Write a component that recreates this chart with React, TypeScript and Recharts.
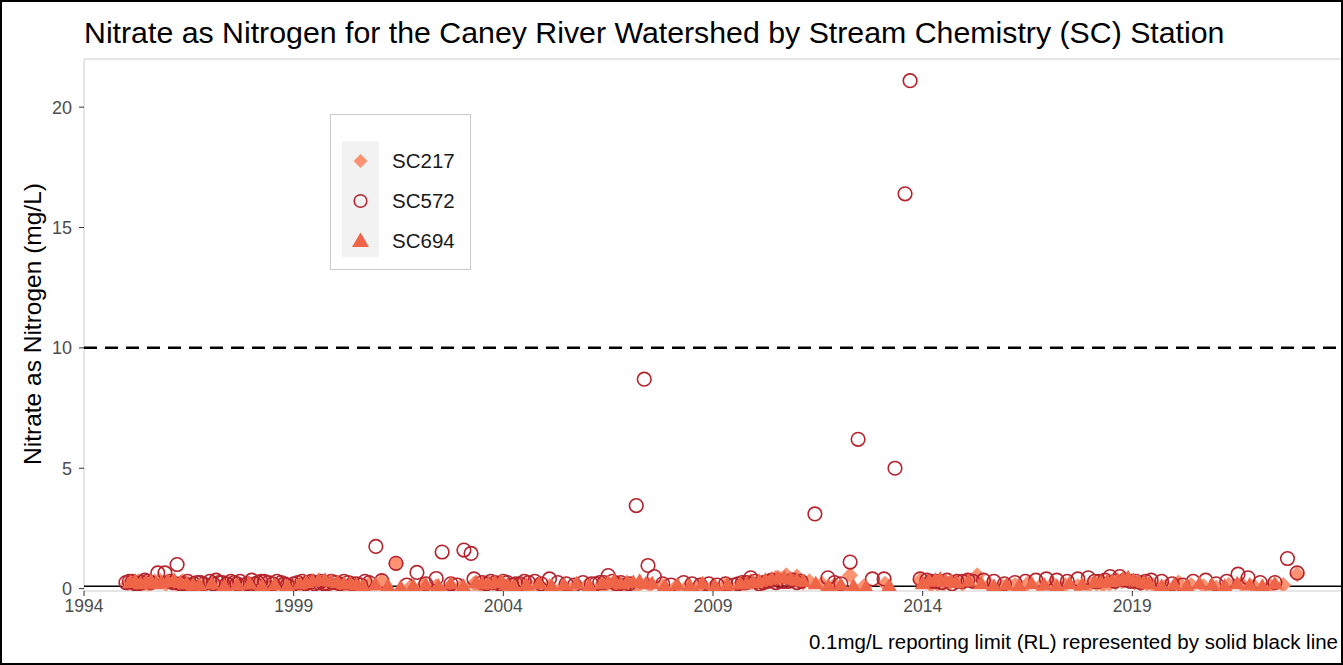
import { ScatterChart, Scatter, XAxis, YAxis, ReferenceLine, ReferenceArea } from 'recharts';

type Pt = [number, number];

// decimal year, nitrate (mg/L)
const sc217: Pt[] = [
  [1995.05, 0.2], [1995.18, 0.25], [1995.3, 0.3], [1995.42, 0.2], [1995.55, 0.15], [1995.68, 0.3],
  [1995.8, 0.35], [1995.95, 0.2], [1996.1, 0.25], [1996.22, 0.15], [1996.35, 0.3], [1996.48, 0.2],
  [1996.6, 0.1], [1996.75, 0.1], [1996.9, 0.15], [1997.05, 0.15], [1997.2, 0.1], [1997.35, 0.2],
  [1997.5, 0.2], [1997.65, 0.15], [1997.8, 0.1], [1997.95, 0.1], [1998.1, 0.15], [1998.25, 0.2],
  [1998.4, 0.1], [1998.55, 0.15], [1998.7, 0.2], [1998.85, 0.1], [1999.0, 0.1], [1999.15, 0.2],
  [1999.3, 0.15], [1999.45, 0.25], [1999.6, 0.3], [1999.75, 0.15], [1999.9, 0.2], [2000.05, 0.2],
  [2000.2, 0.1], [2000.35, 0.15], [2000.5, 0.15], [2000.65, 0.1], [2000.8, 0.2], [2001.1, 0.3],
  [2001.44, 1.05], [2001.8, 0.1], [2002.1, 0.15], [2002.4, 0.1], [2002.7, 0.05], [2003.0, 0.1],
  [2003.3, 0.2], [2003.45, 0.1], [2003.6, 0.15], [2003.75, 0.2], [2003.9, 0.1], [2004.05, 0.1],
  [2004.2, 0.05], [2004.35, 0.15], [2004.5, 0.1], [2004.65, 0.1], [2004.8, 0.15], [2005.1, 0.1],
  [2005.4, 0.05], [2005.7, 0.1], [2006.0, 0.15], [2006.3, 0.1], [2006.45, 0.15], [2006.6, 0.2],
  [2006.75, 0.1], [2006.9, 0.15], [2007.05, 0.2], [2007.2, 0.1], [2007.5, 0.15], [2007.8, 0.1],
  [2008.1, 0.05], [2008.4, 0.1], [2008.7, 0.15], [2009.0, 0.1], [2009.3, 0.15], [2009.6, 0.1],
  [2009.75, 0.2], [2009.9, 0.3], [2010.05, 0.25], [2010.2, 0.2], [2010.35, 0.3], [2010.5, 0.45],
  [2010.62, 0.4], [2010.75, 0.55], [2010.88, 0.35], [2011.0, 0.5], [2011.15, 0.25], [2011.3, 0.3],
  [2011.6, 0.2], [2011.9, 0.15], [2012.27, 0.55], [2012.6, 0.1], [2013.1, 0.2], [2013.94, 0.35],
  [2014.2, 0.15], [2014.35, 0.2], [2014.5, 0.2], [2014.65, 0.25], [2014.8, 0.3], [2014.95, 0.2],
  [2015.05, 0.35], [2015.3, 0.55], [2015.6, 0.15], [2015.9, 0.1], [2016.2, 0.15], [2016.5, 0.2],
  [2016.8, 0.1], [2017.1, 0.2], [2017.4, 0.15], [2017.7, 0.1], [2018.0, 0.2], [2018.15, 0.2],
  [2018.3, 0.15], [2018.45, 0.2], [2018.6, 0.25], [2018.75, 0.3], [2018.9, 0.35], [2019.05, 0.25],
  [2019.2, 0.2], [2019.35, 0.2], [2019.5, 0.15], [2019.8, 0.1], [2020.1, 0.25], [2020.4, 0.15],
  [2020.7, 0.1], [2021.0, 0.05], [2021.3, 0.15], [2021.6, 0.2], [2021.9, 0.1], [2022.3, 0.1],
  [2022.6, 0.15], [2022.93, 0.6],
];

const sc572: Pt[] = [
  [1995.0, 0.25], [1995.08, 0.3], [1995.15, 0.3], [1995.22, 0.2], [1995.3, 0.2], [1995.38, 0.25],
  [1995.45, 0.35], [1995.52, 0.3], [1995.6, 0.25], [1995.76, 0.65], [1995.93, 0.65], [1996.05, 0.3],
  [1996.12, 0.25], [1996.22, 1.0], [1996.3, 0.2], [1996.4, 0.2], [1996.47, 0.3], [1996.55, 0.15],
  [1996.62, 0.2], [1996.7, 0.25], [1996.78, 0.25], [1996.85, 0.2], [1997.0, 0.3], [1997.08, 0.2],
  [1997.15, 0.35], [1997.22, 0.25], [1997.3, 0.25], [1997.4, 0.2], [1997.5, 0.3], [1997.58, 0.25],
  [1997.65, 0.2], [1997.72, 0.3], [1997.8, 0.15], [1997.9, 0.2], [1998.0, 0.35], [1998.08, 0.2],
  [1998.15, 0.25], [1998.22, 0.3], [1998.3, 0.3], [1998.4, 0.25], [1998.5, 0.2], [1998.6, 0.3],
  [1998.7, 0.25], [1998.78, 0.2], [1998.85, 0.15], [1999.0, 0.2], [1999.1, 0.25], [1999.2, 0.3],
  [1999.28, 0.2], [1999.35, 0.25], [1999.42, 0.3], [1999.5, 0.2], [1999.58, 0.25], [1999.65, 0.3],
  [1999.72, 0.2], [1999.8, 0.2], [1999.9, 0.3], [2000.0, 0.25], [2000.1, 0.2], [2000.2, 0.3],
  [2000.3, 0.25], [2000.4, 0.2], [2000.5, 0.2], [2000.6, 0.15], [2000.7, 0.3], [2000.8, 0.25],
  [2000.96, 1.75], [2001.1, 0.33], [2001.44, 1.05], [2001.7, 0.15], [2001.94, 0.67], [2002.15, 0.2],
  [2002.4, 0.42], [2002.54, 1.52], [2002.75, 0.2], [2002.9, 0.15], [2003.06, 1.6], [2003.23, 1.46],
  [2003.3, 0.4], [2003.5, 0.25], [2003.6, 0.2], [2003.7, 0.3], [2003.8, 0.25], [2003.9, 0.2],
  [2004.0, 0.3], [2004.1, 0.25], [2004.2, 0.15], [2004.3, 0.2], [2004.4, 0.2], [2004.5, 0.3],
  [2004.6, 0.25], [2004.75, 0.3], [2004.9, 0.2], [2005.1, 0.4], [2005.3, 0.25], [2005.5, 0.2],
  [2005.7, 0.15], [2005.9, 0.25], [2006.1, 0.2], [2006.2, 0.2], [2006.3, 0.25], [2006.4, 0.25],
  [2006.5, 0.54], [2006.6, 0.3], [2006.7, 0.2], [2006.8, 0.25], [2006.9, 0.15], [2007.0, 0.2],
  [2007.17, 3.45], [2007.36, 8.7], [2007.45, 0.96], [2007.6, 0.5], [2007.8, 0.2], [2008.0, 0.15],
  [2008.3, 0.25], [2008.5, 0.2], [2008.7, 0.15], [2008.9, 0.2], [2009.1, 0.15], [2009.3, 0.2],
  [2009.5, 0.15], [2009.6, 0.2], [2009.7, 0.25], [2009.8, 0.25], [2009.9, 0.45], [2010.0, 0.3],
  [2010.1, 0.2], [2010.2, 0.25], [2010.3, 0.3], [2010.4, 0.35], [2010.5, 0.25], [2010.6, 0.3],
  [2010.7, 0.3], [2010.8, 0.3], [2010.9, 0.35], [2011.0, 0.25], [2011.1, 0.3], [2011.43, 3.1],
  [2011.74, 0.45], [2011.9, 0.25], [2012.05, 0.2], [2012.27, 1.1], [2012.46, 6.2], [2012.8, 0.4],
  [2013.08, 0.4], [2013.34, 5.0], [2013.58, 16.4], [2013.7, 21.1], [2013.94, 0.4], [2014.1, 0.35],
  [2014.2, 0.3], [2014.32, 0.3], [2014.45, 0.25], [2014.58, 0.35], [2014.7, 0.2], [2014.82, 0.3],
  [2014.95, 0.3], [2015.08, 0.35], [2015.2, 0.3], [2015.45, 0.35], [2015.7, 0.3], [2015.95, 0.2],
  [2016.2, 0.25], [2016.45, 0.3], [2016.7, 0.35], [2016.95, 0.4], [2017.2, 0.35], [2017.45, 0.3],
  [2017.7, 0.4], [2017.95, 0.45], [2018.1, 0.3], [2018.2, 0.3], [2018.35, 0.35], [2018.47, 0.5],
  [2018.58, 0.3], [2018.7, 0.5], [2018.82, 0.35], [2018.95, 0.3], [2019.08, 0.3], [2019.2, 0.25],
  [2019.32, 0.3], [2019.45, 0.35], [2019.7, 0.3], [2019.95, 0.2], [2020.2, 0.15], [2020.45, 0.3],
  [2020.75, 0.35], [2021.0, 0.2], [2021.25, 0.3], [2021.52, 0.6], [2021.76, 0.45], [2022.05, 0.25],
  [2022.4, 0.25], [2022.7, 1.25], [2022.93, 0.65],
];

const sc694: Pt[] = [
  [1995.1, 0.25], [1995.22, 0.3], [1995.35, 0.2], [1995.48, 0.25], [1995.6, 0.3], [1995.72, 0.2],
  [1995.85, 0.25], [1996.0, 0.3], [1996.15, 0.35], [1996.3, 0.25], [1996.45, 0.2], [1996.6, 0.15],
  [1996.75, 0.15], [1997.05, 0.2], [1997.35, 0.1], [1997.65, 0.15], [1997.95, 0.2], [1998.25, 0.1],
  [1998.55, 0.15], [1998.85, 0.1], [1999.15, 0.2], [1999.3, 0.25], [1999.45, 0.3], [1999.6, 0.35],
  [1999.75, 0.35], [1999.9, 0.3], [2000.05, 0.25], [2000.2, 0.2], [2000.35, 0.2], [2000.5, 0.15],
  [2000.65, 0.1], [2000.95, 0.15], [2001.25, 0.1], [2001.55, 0.05], [2001.85, 0.1], [2002.15, 0.15],
  [2002.45, 0.1], [2002.75, 0.2], [2003.05, 0.1], [2003.35, 0.25], [2003.5, 0.2], [2003.65, 0.2],
  [2003.8, 0.25], [2003.95, 0.3], [2004.1, 0.15], [2004.25, 0.1], [2004.55, 0.15], [2004.85, 0.2],
  [2005.15, 0.1], [2005.45, 0.15], [2005.75, 0.2], [2006.05, 0.1], [2006.35, 0.2], [2006.5, 0.25],
  [2006.65, 0.3], [2006.8, 0.2], [2006.95, 0.25], [2007.1, 0.25], [2007.25, 0.3], [2007.4, 0.2],
  [2007.55, 0.2], [2007.85, 0.1], [2008.15, 0.15], [2008.45, 0.1], [2008.75, 0.2], [2009.05, 0.1],
  [2009.35, 0.15], [2009.65, 0.2], [2009.8, 0.2], [2009.95, 0.25], [2010.1, 0.3], [2010.25, 0.35],
  [2010.4, 0.4], [2010.55, 0.45], [2010.7, 0.45], [2010.85, 0.4], [2011.0, 0.35], [2011.15, 0.3],
  [2011.45, 0.2], [2011.75, 0.1], [2012.05, 0.15], [2012.35, 0.1], [2012.65, 0.05], [2013.2, 0.1],
  [2014.0, 0.2], [2014.15, 0.3], [2014.3, 0.35], [2014.42, 0.4], [2014.55, 0.3], [2014.68, 0.3],
  [2014.8, 0.25], [2015.1, 0.3], [2015.4, 0.2], [2015.7, 0.1], [2016.0, 0.15], [2016.3, 0.1],
  [2016.6, 0.2], [2016.9, 0.15], [2017.2, 0.1], [2017.5, 0.2], [2017.8, 0.15], [2018.1, 0.25],
  [2018.25, 0.25], [2018.4, 0.3], [2018.52, 0.3], [2018.65, 0.35], [2018.78, 0.4], [2018.9, 0.45],
  [2019.02, 0.35], [2019.15, 0.3], [2019.28, 0.25], [2019.4, 0.2], [2019.7, 0.1], [2020.0, 0.15],
  [2020.3, 0.1], [2020.6, 0.2], [2020.9, 0.15], [2021.2, 0.1], [2021.5, 0.2], [2021.8, 0.15],
  [2022.1, 0.1], [2022.4, 0.2],
];

const yearTicks = [1994, 1999, 2004, 2009, 2014, 2019];
const valueTicks = [0, 5, 10, 15, 20];
const mcl = 10;
const reportingLimit = 0.1;

const FONT = '"Liberation Sans", Arial, sans-serif';
const C217 = '#FC9272';
const C572 = '#B5222B';
const C694 = '#EF6548';

const toRows = (pts: Pt[]) => pts.map(([date, value]) => ({ date, value }));

function Diamond(props: any) {
  const { cx, cy } = props;
  const r = 8;
  return <polygon points={`${cx},${cy - r} ${cx + r},${cy} ${cx},${cy + r} ${cx - r},${cy}`} fill={C217} />;
}

function Ring(props: any) {
  const { cx, cy } = props;
  return <circle cx={cx} cy={cy} r={6.8} fill="none" stroke={C572} strokeWidth={1.6} />;
}

function Tri(props: any) {
  const { cx, cy } = props;
  return <polygon points={`${cx},${cy - 8} ${cx + 8},${cy + 5.5} ${cx - 8},${cy + 5.5}`} fill={C694} />;
}

function LegendBox() {
  const items = [
    { name: 'SC217', shape: <polygon points="10,3 17,10 10,17 3,10" fill={C217} /> },
    { name: 'SC572', shape: <circle cx={10} cy={10} r={6.3} fill="none" stroke={C572} strokeWidth={1.5} /> },
    { name: 'SC694', shape: <polygon points="10,1.5 18.5,16 1.5,16" fill={C694} /> },
  ];
  return (
    <div style={{ position: 'absolute', left: 330, top: 114, width: 139, height: 154, border: '1px solid #cccccc', background: '#fff' }}>
      <div style={{ position: 'absolute', left: 11, top: 26, width: 37, height: 116, background: '#f2f2f2' }} />
      {items.map((it, i) => (
        <div key={it.name} style={{ position: 'absolute', left: 11, top: 35 + i * 40, height: 22, display: 'flex', alignItems: 'center' }}>
          <svg width={37} height={20} viewBox="-8.5 0 37 20">{it.shape}</svg>
          <span style={{ marginLeft: 13, fontFamily: FONT, fontSize: 20.5, color: '#1a1a1a' }}>{it.name}</span>
        </div>
      ))}
    </div>
  );
}

export default function App() {
  return (
    <div style={{ position: 'fixed', left: 0, top: 0, width: 1343, height: 665, background: '#fff' }}>
      <div style={{ position: 'absolute', left: 84, top: 18, fontFamily: FONT, fontSize: 30.3, lineHeight: 1, color: '#000', whiteSpace: 'nowrap' }}>
        Nitrate as Nitrogen for the Caney River Watershed by Stream Chemistry (SC) Station
      </div>
      <ScatterChart width={1343} height={665} margin={{ top: 59, right: 1, bottom: 44, left: 24 }}>
        <XAxis
          type="number"
          dataKey="date"
          domain={[1994, 2024]}
          ticks={yearTicks}
          allowDataOverflow
          axisLine={false}
          tickLine={{ stroke: '#333' }}
          tickSize={5}
          tickMargin={4}
          height={30}
          tick={{ fontSize: 17.5, fill: '#4d4d4d', fontFamily: FONT }}
        />
        <YAxis
          type="number"
          dataKey="value"
          domain={[-0.1, 22]}
          ticks={valueTicks}
          allowDataOverflow
          axisLine={false}
          tickLine={{ stroke: '#333' }}
          tickSize={5}
          tickMargin={7}
          width={60}
          tick={{ fontSize: 18, fill: '#4d4d4d', fontFamily: FONT }}
        />
        <ReferenceArea x1={1994} x2={2024} y1={-0.1} y2={22} fill="none" stroke="#cccccc" strokeWidth={1} />
        <Scatter name="SC217" data={toRows(sc217)} shape={Diamond} isAnimationActive={false} />
        <Scatter name="SC572" data={toRows(sc572)} shape={Ring} isAnimationActive={false} />
        <Scatter name="SC694" data={toRows(sc694)} shape={Tri} isAnimationActive={false} />
        <ReferenceLine y={mcl} stroke="#000" strokeWidth={2.5} strokeDasharray="13 8" />
        <ReferenceLine y={reportingLimit} stroke="#000" strokeWidth={1.5} />
      </ScatterChart>
      <div style={{ position: 'absolute', left: 33, top: 324, transform: 'translate(-50%, -50%) rotate(-90deg)', fontFamily: FONT, fontSize: 24.5, color: '#000', whiteSpace: 'nowrap' }}>
        Nitrate as Nitrogen (mg/L)
      </div>
      <LegendBox />
      <div style={{ position: 'absolute', right: 5, top: 630, fontFamily: FONT, fontSize: 20.5, color: '#000', whiteSpace: 'nowrap' }}>
        0.1mg/L reporting limit (RL) represented by solid black line
      </div>
      <div style={{ position: 'absolute', inset: 0, border: '2px solid #000', pointerEvents: 'none' }} />
    </div>
  );
}
